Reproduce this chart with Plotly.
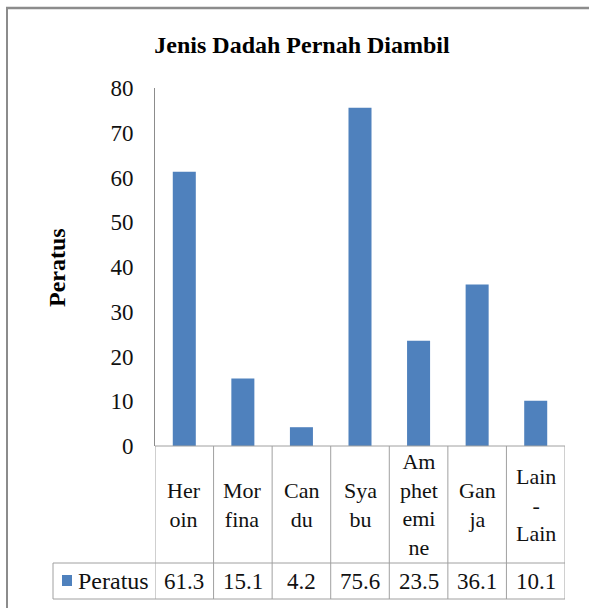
import plotly.graph_objects as go

categories = ["Heroin", "Morfina", "Candu", "Syabu", "Amphetemine", "Ganja", "Lain-Lain"]
cat_labels = ["Her<br>oin", "Mor<br>fina", "Can<br>du", "Sya<br>bu",
              "Am<br>phet<br>emi<br>ne", "Gan<br>ja", "Lain<br>-<br>Lain"]
values = [61.3, 15.1, 4.2, 75.6, 23.5, 36.1, 10.1]
value_labels = ["61.3", "15.1", "4.2", "75.6", "23.5", "36.1", "10.1"]
series_name = "Peratus"
y_ticks = [0, 10, 20, 30, 40, 50, 60, 70, 80]

W, H = 589, 608
L, R, T, B = 155, 24, 88, 162
PW, PH = W - L - R, H - T - B
FONT = "Liberation Serif, Times New Roman, serif"
BAR = "#4F81BD"
LINE = "#A0A0A0"
TXT = "#111111"


def px(xp):
    return (xp - L) / PW


def py(yp):
    return (H - B - yp) / PH


fig = go.Figure()
fig.add_trace(go.Bar(x=list(range(len(categories))), y=values, name=series_name,
                     marker=dict(color=BAR, line=dict(width=0)), width=0.393,
                     hovertext=categories, showlegend=False))

n = len(categories)
shapes = []
row1 = py(563)
row2 = py(599)
# vertical column lines of data table
for i in range(n + 1):
    shapes.append(dict(type="line", xref="x", yref="paper", x0=i - 0.5, x1=i - 0.5,
                       y0=0, y1=row2, line=dict(color=LINE, width=1)))
# horizontal lines
shapes.append(dict(type="line", xref="x", yref="paper", x0=-0.5, x1=n - 0.5,
                   y0=0, y1=0, line=dict(color=LINE, width=1)))
shapes.append(dict(type="line", xref="paper", yref="paper", x0=px(53), x1=1,
                   y0=row1, y1=row1, line=dict(color=LINE, width=1)))
shapes.append(dict(type="line", xref="paper", yref="paper", x0=px(53), x1=1,
                   y0=row2, y1=row2, line=dict(color=LINE, width=1)))
shapes.append(dict(type="line", xref="paper", yref="paper", x0=px(53), x1=px(53),
                   y0=row1, y1=row2, line=dict(color=LINE, width=1)))
# legend key swatch
shapes.append(dict(type="rect", xref="paper", yref="paper", x0=px(62), x1=px(72),
                   y0=py(586), y1=py(575), fillcolor=BAR, line=dict(width=0)))
# outer chart frame (top and left edges visible in the crop)
shapes.append(dict(type="line", xref="paper", yref="paper", x0=px(6), x1=px(600),
                   y0=py(8), y1=py(8), line=dict(color="#8C8C8C", width=2.5)))
shapes.append(dict(type="line", xref="paper", yref="paper", x0=px(7), x1=px(7),
                   y0=py(7), y1=py(620), line=dict(color="#8C8C8C", width=2)))

annotations = []
for i, lab in enumerate(cat_labels):
    annotations.append(dict(x=i, y=py(505), xref="x", yref="paper", text=lab,
                            showarrow=False, xanchor="center", yanchor="middle",
                            font=dict(family=FONT, size=22, color=TXT)))
for i, v in enumerate(value_labels):
    annotations.append(dict(x=i, y=py(581), xref="x", yref="paper", text=v,
                            showarrow=False, xanchor="center", yanchor="middle",
                            font=dict(family=FONT, size=23, color=TXT)))
annotations.append(dict(x=px(76), y=py(581), xref="paper", yref="paper", text=series_name,
                        showarrow=False, xanchor="left", yanchor="middle",
                        font=dict(family=FONT, size=24, color=TXT)))
annotations.append(dict(x=px(57), y=py(268), xref="paper", yref="paper", text="<b>Peratus</b>",
                        showarrow=False, xanchor="center", yanchor="middle", textangle=-90,
                        font=dict(family=FONT, size=24, color="#000000")))

fig.update_layout(
    width=W, height=H,
    margin=dict(l=L, r=R, t=T, b=B),
    paper_bgcolor="white", plot_bgcolor="white",
    title=dict(text="<b>Jenis Dadah Pernah Diambil</b>", x=302 / W, xref="container",
               xanchor="center", y=1 - 45 / H, yref="container", yanchor="middle",
               font=dict(family=FONT, size=24, color="#000000")),
    xaxis=dict(range=[-0.5, n - 0.5], showticklabels=False, showgrid=False,
               zeroline=False, showline=False, ticks=""),
    yaxis=dict(range=[0, 80], tickvals=y_ticks, showgrid=False, zeroline=False,
               showline=True, linecolor="#8C8C8C", linewidth=1, ticks="",
               ticklabelstandoff=16,
               tickfont=dict(family=FONT, size=23, color=TXT)),
    shapes=shapes, annotations=annotations,
    bargap=0.6,
)

fig.write_html("out.html", config={"displayModeBar": False},
               post_script="document.body.style.margin='0';document.body.style.overflow='hidden';")
